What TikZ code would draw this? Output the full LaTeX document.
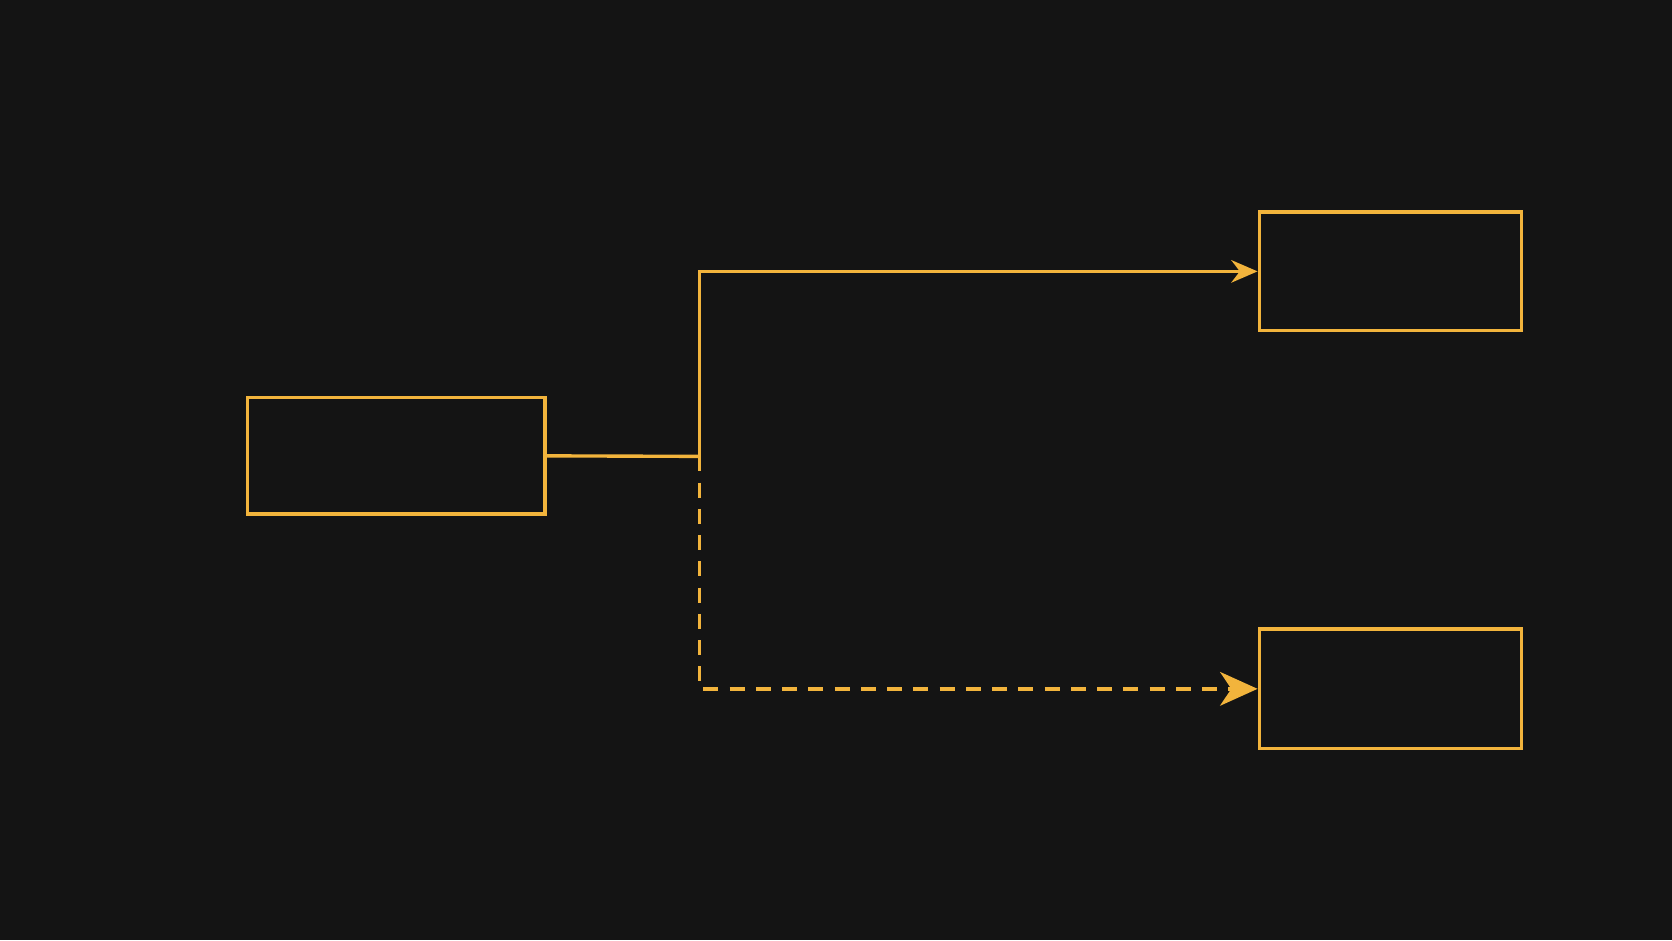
\documentclass[tikz,border=0pt]{standalone}
\usetikzlibrary{arrows.meta}
\definecolor{bgdark}{HTML}{141414}
\definecolor{amber}{HTML}{F2B43C}
\tikzset{
  box/.style={draw=amber, line width=0.9pt, inner sep=0pt},
  link/.style={draw=amber, line width=0.9pt},
}
\begin{document}
\begin{tikzpicture}[x=0.01cm, y=-0.01cm]
    % background
    \fill [bgdark] (0,0) rectangle (1568,882);%

    % Drawing box source
    \node [box, minimum width=2.79cm, minimum height=1.09cm] (src) at (371.5,427.5) {};%

    % Drawing box upper
    \node [box, minimum width=2.46cm, minimum height=1.11cm] (upper) at (1304,254.5) {};%

    % Drawing box lower
    \node [box, minimum width=2.46cm, minimum height=1.12cm] (lower) at (1304,646) {};%

    % Branch point
    \coordinate (fork) at (656,428);%

    % Drawing segment src fork
    \draw [link] (src.east) -- (fork);%

    % Drawing segment fork upper
    \draw [link, -{Stealth[length=7pt, width=6pt]}] (fork) |- (upper.west);%

    % Drawing segment fork lower
    \draw [link, dashed, dash pattern=on 4pt off 3pt, -{Stealth[length=10pt, width=9pt, inset=3pt]}] (fork) |- (lower.west);%
\end{tikzpicture}
\end{document}
